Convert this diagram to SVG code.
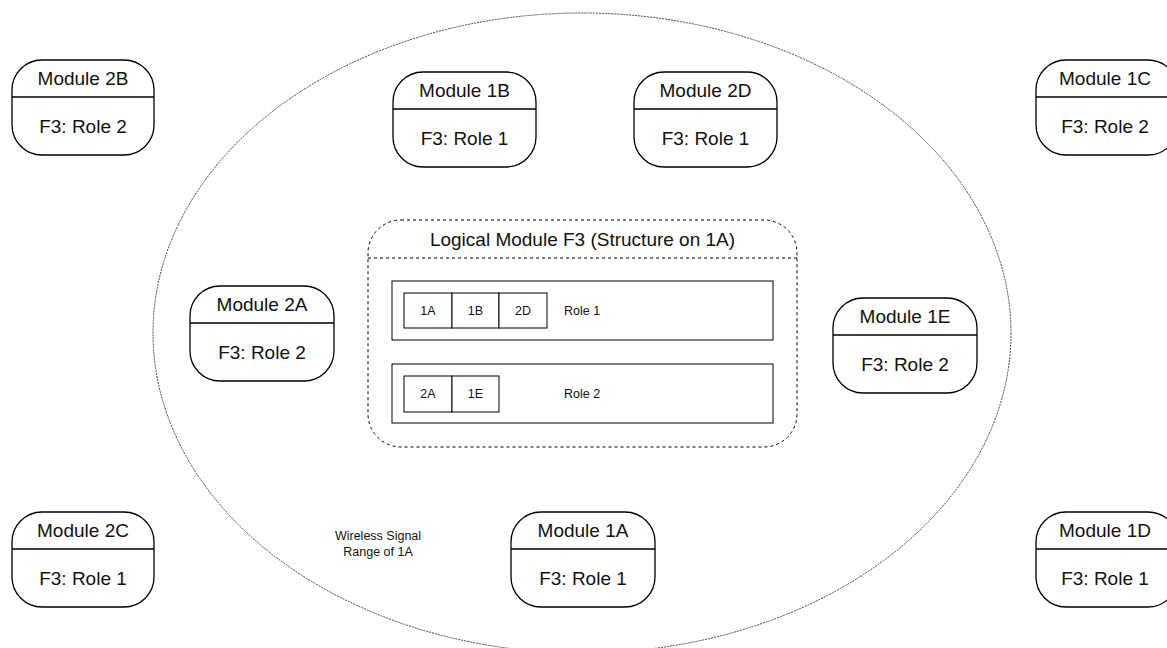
<svg xmlns="http://www.w3.org/2000/svg" width="1167" height="648" viewBox="0 0 1167 648">
<style>
.n{fill:#fff;stroke:#000;stroke-width:1.3}
.d{stroke:#000;stroke-width:1.3}
.t{font-family:"Liberation Sans",Arial,sans-serif;font-size:19px;fill:#111;text-anchor:middle;dominant-baseline:central}
.s{font-family:"Liberation Sans",Arial,sans-serif;font-size:12.5px;fill:#111;dominant-baseline:central}
.c{fill:#fff;stroke:#000;stroke-width:1}
</style>
<rect width="1167" height="648" fill="#fff"/>
<ellipse id="range" cx="582" cy="333" rx="429" ry="320" fill="none" stroke="#444" stroke-width="1" stroke-dasharray="2 1"/>
<g id="range-label">
<text class="s" x="378" y="536" text-anchor="middle">Wireless Signal</text>
<text class="s" x="378" y="552" text-anchor="middle">Range of 1A</text>
</g>
<g id="m2B"><rect class="n" x="12" y="60" width="142" height="95" rx="30"/><line class="d" x1="12" y1="97" x2="154" y2="97"/><text class="t" x="83" y="78">Module 2B</text><text class="t" x="83" y="126">F3: Role 2</text></g>
<g id="m1B"><rect class="n" x="393" y="72" width="143" height="95" rx="30"/><line class="d" x1="393" y1="109" x2="536" y2="109"/><text class="t" x="464.5" y="90">Module 1B</text><text class="t" x="464.5" y="138">F3: Role 1</text></g>
<g id="m2D"><rect class="n" x="634" y="72" width="143" height="95" rx="30"/><line class="d" x1="634" y1="109" x2="777" y2="109"/><text class="t" x="705.5" y="90">Module 2D</text><text class="t" x="705.5" y="138">F3: Role 1</text></g>
<g id="m1C"><rect class="n" x="1036" y="60" width="142" height="95" rx="30"/><line class="d" x1="1036" y1="97" x2="1178" y2="97"/><text class="t" x="1105" y="78">Module 1C</text><text class="t" x="1105" y="126">F3: Role 2</text></g>
<g id="m2A"><rect class="n" x="190" y="286" width="144" height="95" rx="30"/><line class="d" x1="190" y1="323" x2="334" y2="323"/><text class="t" x="262" y="304">Module 2A</text><text class="t" x="262" y="352">F3: Role 2</text></g>
<g id="m1E"><rect class="n" x="833" y="298" width="144" height="95" rx="30"/><line class="d" x1="833" y1="335" x2="977" y2="335"/><text class="t" x="905" y="316">Module 1E</text><text class="t" x="905" y="364">F3: Role 2</text></g>
<g id="m2C"><rect class="n" x="12" y="512" width="142" height="95" rx="30"/><line class="d" x1="12" y1="549" x2="154" y2="549"/><text class="t" x="83" y="530">Module 2C</text><text class="t" x="83" y="578">F3: Role 1</text></g>
<g id="m1A"><rect class="n" x="511" y="512" width="144" height="95" rx="30"/><line class="d" x1="511" y1="549" x2="655" y2="549"/><text class="t" x="583" y="530">Module 1A</text><text class="t" x="583" y="578">F3: Role 1</text></g>
<g id="m1D"><rect class="n" x="1036" y="512" width="142" height="95" rx="30"/><line class="d" x1="1036" y1="549" x2="1178" y2="549"/><text class="t" x="1105" y="530">Module 1D</text><text class="t" x="1105" y="578">F3: Role 1</text></g>
<g id="logical">
<rect x="368" y="220" width="429" height="227" rx="33" fill="#fff" stroke="#000" stroke-width="1" stroke-dasharray="3 3"/>
<line x1="368" y1="258" x2="797" y2="258" stroke="#000" stroke-width="1" stroke-dasharray="3 3"/>
<text class="t" x="582.5" y="239">Logical Module F3 (Structure on 1A)</text>
<rect class="c" x="392" y="281" width="381" height="59"/>
<rect class="c" x="404" y="293" width="48" height="35"/><rect class="c" x="452" y="293" width="47" height="35"/><rect class="c" x="499" y="293" width="48" height="35"/>
<text class="s" x="428" y="310.5" text-anchor="middle">1A</text><text class="s" x="475.5" y="310.5" text-anchor="middle">1B</text><text class="s" x="523" y="310.5" text-anchor="middle">2D</text>
<text class="s" x="564" y="310.5">Role 1</text>
<rect class="c" x="392" y="364" width="381" height="59"/>
<rect class="c" x="404" y="376" width="48" height="36"/><rect class="c" x="452" y="376" width="47" height="36"/>
<text class="s" x="428" y="394" text-anchor="middle">2A</text><text class="s" x="475.5" y="394" text-anchor="middle">1E</text>
<text class="s" x="564" y="394">Role 2</text>
</g>
<g id="connectors"/>
</svg>
